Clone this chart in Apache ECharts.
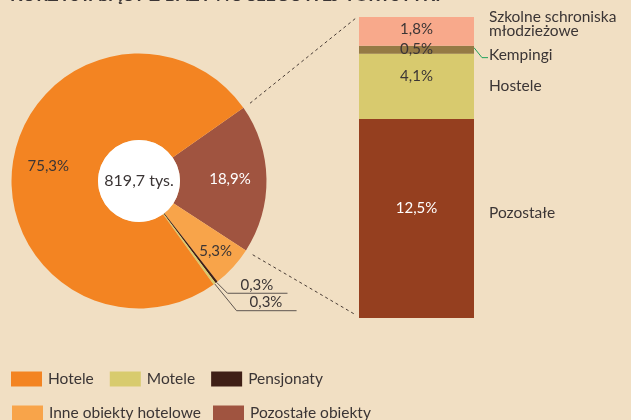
<!DOCTYPE html>
<html>
<head>
<meta charset="utf-8">
<script src="https://cdn.jsdelivr.net/npm/echarts@6/dist/echarts.min.js"></script>
<style>
  html, body { margin: 0; padding: 0; background: #f1dfc3; }
  #main { width: 631px; height: 420px; }
</style>
</head>
<body>
<div id="main"></div>
<script>
// dane – struktura wg rodzaju obiektu (pierścień) i rozbicie „pozostałych” (słupek)
const pieNames = ['Pozostałe obiekty', 'Inne obiekty hotelowe', 'Pensjonaty', 'Motele', 'Hotele'];
const pieValues = [18.9, 5.3, 0.3, 0.3, 75.3];
const pieLabels = ['18,9%', '5,3%', '0,3%', '0,3%', '75,3%'];
const totalLabel = '819,7 tys.';

const barNames = ['Szkolne schroniska\nmłodzieżowe', 'Kempingi', 'Hostele', 'Pozostałe'];
const barValues = [1.8, 0.5, 4.1, 12.5];
const barLabels = ['1,8%', '0,5%', '4,1%', '12,5%'];

const legendRow1 = ['Hotele', 'Motele', 'Pensjonaty'];
const legendRow2 = ['Inne obiekty hotelowe', 'Pozostałe obiekty'];

const titleText = 'KORZYSTAJĄCY Z BAZY NOCLEGOWEJ TURYSTYKI';

// style
const FONT = 'Lato';
const TXT = '#3b3535';
const pieColors = ['#a05440', '#f8a44a', '#3f1f16', '#d8cb6e', '#f38422'];
const pieLabelColors = ['#fff', TXT, TXT, TXT, TXT];
const pieLabelR = [91, 104, 0, 0, 92];
const leader = { 2: [11, 11], 3: [22, 27] };
const barColors = ['#f8a98b', '#957a45', '#d8ca6e', '#953f1f'];
const barLabelColors = [TXT, TXT, TXT, '#fff'];
const barLabelShift = [-2, 0, -10, -10];
const nameShift = [-7, 5, 0, -5];

const pieCenter = [139, 181];
const pieR = 127.5;
const holeR = 41;
const startAngle = 35;
const barW = 115;

const chart = echarts.init(document.getElementById('main'));

const barMax = barValues.reduce((a, b) => a + b, 0);

// słupek – od dołu (Pozostałe) do góry
const barSeries = [];
for (let i = barValues.length - 1; i >= 0; i--) {
  barSeries.push({
    name: barNames[i],
    type: 'bar',
    stack: 'b',
    barWidth: barW,
    data: [barValues[i]],
    itemStyle: { color: barColors[i] },
    label: {
      show: true,
      position: 'inside',
      offset: [0, barLabelShift[i]],
      formatter: () => barLabels[i],
      color: barLabelColors[i],
      fontFamily: FONT,
      fontSize: 15
    },
    silent: true
  });
}

const legendCommon = {
  icon: 'rect',
  itemWidth: 31,
  itemHeight: 15,
  padding: 0,
  selectedMode: false,
  orient: 'horizontal',
  textStyle: { color: TXT, fontFamily: FONT, fontSize: 15.5, padding: [0, 0, 0, 1] }
};

const option = {
  backgroundColor: '#f1dfc3',
  animation: false,
  textStyle: { fontFamily: FONT },
  grid: { left: 359, width: barW, top: 17, height: 301 },
  xAxis: { type: 'category', data: ['x'], show: false },
  yAxis: { type: 'value', min: 0, max: barMax, show: false },
  legend: [
    Object.assign({ data: legendRow1, left: 11, top: 371, itemGap: 16 }, legendCommon),
    Object.assign({ data: legendRow2, left: 12, top: 405, itemGap: 12 }, legendCommon)
  ],
  series: [
    {
      name: 'struktura',
      type: 'pie',
      center: pieCenter,
      radius: [holeR, pieR],
      startAngle: startAngle,
      clockwise: true,
      avoidLabelOverlap: false,
      silent: true,
      data: pieNames.map((n, i) => ({
        name: n,
        value: pieValues[i],
        itemStyle: { color: pieColors[i] },
        label: {
          position: leader[i] ? 'outside' : 'inside',
          color: pieLabelColors[i]
        },
        labelLine: { show: !!leader[i] }
      })),
      label: {
        show: true,
        formatter: p => pieLabels[p.dataIndex],
        fontFamily: FONT,
        fontSize: 15,
        color: TXT
      },
      labelLine: { lineStyle: { color: '#5e5650', width: 1 } },
      labelLayout: function (p) {
        const i = p.dataIndex;
        if (leader[i]) {
          if (!p.labelLinePoints) return;
          const p0 = p.labelLinePoints[0];
          const elbow = [p0[0] + leader[i][0], p0[1] + leader[i][1]];
          const end = [elbow[0] + 60, elbow[1]];
          return {
            x: elbow[0] + 13, y: elbow[1] - 1,
            align: 'left', verticalAlign: 'bottom',
            labelLinePoints: [p0, elbow, end]
          };
        }
        const r = p.labelRect;
        const cx = r.x + r.width / 2, cy = r.y + r.height / 2;
        const dx = cx - pieCenter[0], dy = cy - pieCenter[1];
        const k = pieLabelR[i] / Math.hypot(dx, dy);
        return {
          x: pieCenter[0] + dx * k, y: pieCenter[1] + dy * k,
          align: 'center', verticalAlign: 'middle'
        };
      }
    },
    {
      name: 'suma',
      type: 'pie',
      center: pieCenter,
      radius: [0, holeR],
      silent: true,
      data: [{ name: totalLabel, value: 1, itemStyle: { color: '#ffffff' } }],
      label: {
        show: true,
        position: 'center',
        formatter: totalLabel,
        color: TXT,
        fontFamily: FONT,
        fontSize: 16
      },
      labelLine: { show: false }
    }
  ].concat(barSeries)
};

chart.setOption(option);

// elementy opisowe wyliczone z geometrii wykresu
const px = v => chart.convertToPixel({ gridIndex: 0 }, [0, v]);
const barTop = px(barMax);
const barBottom = px(0);
const barLeft = barTop[0] - barW / 2;
const barRight = barTop[0] + barW / 2;

const total = pieValues.reduce((a, b) => a + b, 0);
const rad = d => d * Math.PI / 180;
const a1 = startAngle;
const a2 = startAngle - 360 * pieValues[0] / total;
const rr = pieR + 8;
const edge = a => [pieCenter[0] + rr * Math.cos(rad(a)), pieCenter[1] - rr * Math.sin(rad(a))];
const e1 = edge(a1), e2 = edge(a2);

const dash = { stroke: '#4a3d36', lineWidth: 1, lineDash: [3, 3] };
const graphics = [
  { type: 'line', shape: { x1: e1[0], y1: e1[1], x2: barLeft - 3, y2: barTop[1] + 1 }, style: dash, silent: true },
  { type: 'line', shape: { x1: e2[0], y1: e2[1], x2: barLeft - 3, y2: barBottom[1] - 3 }, style: dash, silent: true },
  {
    type: 'text', left: 10, top: -14, silent: true,
    style: { text: titleText, fill: TXT, font: 'bold 18px ' + FONT }
  }
];

let cum = 0;
const centers = [];
for (let i = barValues.length - 1; i >= 0; i--) {
  centers[i] = px(cum + barValues[i] / 2)[1];
  cum += barValues[i];
}
barNames.forEach((n, i) => {
  graphics.push({
    type: 'text', x: barRight + 15, y: centers[i] + nameShift[i], silent: true,
    style: {
      text: n, fill: TXT, font: '15.5px ' + FONT,
      verticalAlign: 'middle', lineHeight: 14
    }
  });
});
// linia do „Kempingi”
const ky = centers[1];
graphics.push({
  type: 'polyline', silent: true,
  shape: { points: [[barRight, ky - 2], [barRight + 8, ky + 8], [barRight + 14, ky + 8]] },
  style: { stroke: '#1fa25a', lineWidth: 1, fill: null }
});

chart.setOption({ graphic: graphics });
</script>
</body>
</html>
